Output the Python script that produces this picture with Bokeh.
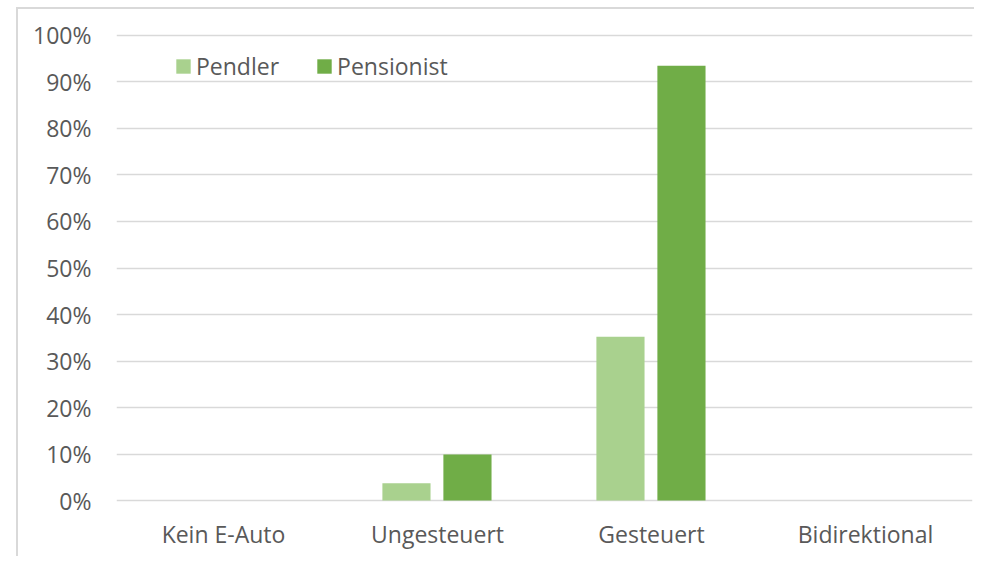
from bokeh.plotting import figure
from bokeh.models import ColumnDataSource, Range1d, FactorRange, Legend, LegendItem, NumeralTickFormatter, FixedTicker
from bokeh.transform import dodge
from bokeh.embed import file_html
from bokeh.resources import INLINE

categories = ["Kein E-Auto", "Ungesteuert", "Gesteuert", "Bidirektional"]
pendler = [0.0, 0.037, 0.352, 0.0]
pensionist = [0.0, 0.099, 0.935, 0.0]
y_ticks = [0.0, 0.1, 0.2, 0.3, 0.4, 0.5, 0.6, 0.7, 0.8, 0.9, 1.0]

FONT = "Open Sans"
TXT = "#595959"

src = ColumnDataSource(dict(cat=categories, pendler=pendler, pensionist=pensionist))

p = figure(x_range=FactorRange(*categories), y_range=Range1d(-0.0043, 1.0043),
           width=958, height=549, output_backend="svg", toolbar_location=None,
           min_border_left=98, min_border_right=4, min_border_top=24, min_border_bottom=56)
p.styles = {"transform": "translate(16px, 7px)",
            "border-left": "2px solid #d9d9d9", "border-top": "2px solid #d9d9d9"}
p.outline_line_color = None
p.background_fill_color = "white"
p.border_fill_color = "white"

r1 = p.vbar(x=dodge("cat", -0.145, range=p.x_range), top="pendler", width=0.225, source=src,
            fill_color="#A9D18E", line_color=None)
r2 = p.vbar(x=dodge("cat", 0.14, range=p.x_range), top="pensionist", width=0.225, source=src,
            fill_color="#70AD47", line_color=None)

p.xgrid.grid_line_color = None
p.ygrid.grid_line_color = "#d9d9d9"
p.ygrid.grid_line_width = 1.5
p.ygrid.ticker = FixedTicker(ticks=y_ticks)

p.yaxis.ticker = FixedTicker(ticks=y_ticks)
p.yaxis.formatter = NumeralTickFormatter(format="0%")
for ax in (p.xaxis, p.yaxis):
    ax.axis_line_color = None
    ax.major_tick_line_color = None
    ax.minor_tick_line_color = None
    ax.major_label_text_font = FONT
    ax.major_label_text_font_size = "23px"
    ax.major_label_text_color = TXT
p.yaxis.major_label_standoff = 19
p.xaxis.major_label_standoff = 9

legend = Legend(items=[LegendItem(label="Pendler", renderers=[r1]),
                       LegendItem(label="Pensionist", renderers=[r2])],
                location=(58, 420), orientation="horizontal",
                padding=0, margin=0, spacing=36, label_standoff=4,
                glyph_width=18, glyph_height=18,
                label_text_font=FONT, label_text_font_size="23px", label_text_color=TXT,
                border_line_color=None, background_fill_alpha=0)
p.add_layout(legend, "center")

open("out.html", "w").write(file_html(p, INLINE))
